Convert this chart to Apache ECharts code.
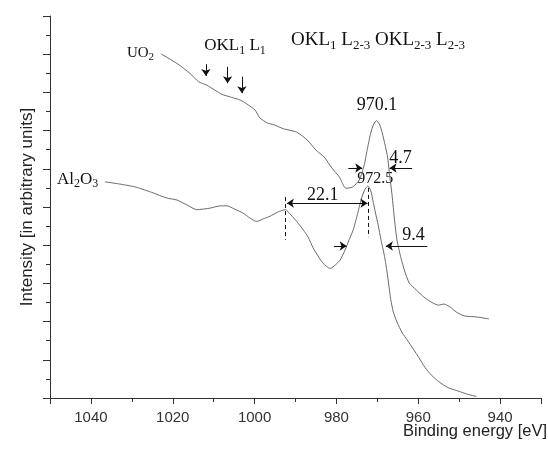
<!DOCTYPE html>
<html>
<head>
<meta charset="utf-8">
<script src="https://cdn.jsdelivr.net/npm/echarts@6/dist/echarts.min.js"></script>
<style>
html, body { margin: 0; padding: 0; background: #fff; }
#chart { width: 548px; height: 449px; }
</style>
</head>
<body>
<div id="chart"></div>
<script>
// spectra (binding energy in eV, intensity in arbitrary units)
var uo2Energy = [1022.9, 1019.0, 1015.8, 1013.7, 1011.7, 1009.7, 1008.0, 1005.6, 1003.5, 1001.5,
	999.9, 998.7, 996.9, 995.2, 993.0, 989.7, 987.1, 985.0, 983.0, 981.1,
	979.3, 977.7, 976.1, 974.4, 973.2, 972.4, 971.6, 970.9, 970.2, 969.4,
	968.8, 968.1, 967.5, 967.0, 966.4, 965.8, 965.2, 964.4, 963.4, 962.2,
	960.5, 958.6, 956.8, 955.1, 953.7, 952.2, 950.7, 948.8, 945.6, 942.7];
var uo2Intensity = [9.01, 8.76, 8.50, 8.28, 8.19, 8.06, 7.95, 7.87, 7.80, 7.67,
	7.54, 7.33, 7.20, 7.15, 7.05, 6.96, 6.75, 6.49, 6.31, 6.02,
	5.79, 5.49, 5.52, 5.71, 6.10, 6.54, 6.94, 7.17, 7.26, 7.15,
	6.94, 6.62, 6.31, 5.84, 5.31, 4.66, 4.14, 3.74, 3.35, 3.01,
	2.83, 2.64, 2.51, 2.43, 2.46, 2.38, 2.25, 2.15, 2.12, 2.07];

var al2o3Energy = [1036.6, 1032.9, 1029.0, 1024.8, 1021.6, 1018.9, 1016.5, 1014.1, 1010.9, 1008.4,
	1006.7, 1005.0, 1002.8, 1001.1, 999.5, 997.9, 996.2, 994.3, 992.5, 991.1,
	989.6, 988.1, 986.9, 985.7, 984.5, 983.3, 981.5, 980.3, 979.1, 977.9,
	976.9, 975.9, 974.9, 974.0, 973.1, 972.3, 971.6, 971.1, 970.5, 969.8,
	969.1, 968.3, 967.7, 967.2, 966.7, 966.1, 965.2, 963.9, 962.7, 961.2,
	959.8, 958.3, 956.8, 954.9, 952.7, 950.2, 948.0, 945.8];
var al2o3Intensity = [5.66, 5.60, 5.52, 5.37, 5.24, 5.18, 5.05, 4.93, 4.97, 5.03,
	5.03, 4.95, 4.84, 4.71, 4.62, 4.69, 4.76, 4.87, 4.93, 4.79,
	4.61, 4.40, 4.21, 3.93, 3.72, 3.53, 3.39, 3.48, 3.61, 3.87,
	4.14, 4.40, 4.79, 5.18, 5.45, 5.55, 5.42, 5.18, 4.87, 4.53,
	4.14, 3.74, 3.35, 2.96, 2.57, 2.25, 1.99, 1.70, 1.52, 1.28,
	1.05, 0.79, 0.60, 0.42, 0.27, 0.18, 0.10, 0.04];

var xTickLabels = [940, 960, 980, 1000, 1020, 1040];
var xMajorTicks = [930, 940, 960, 980, 1000, 1020, 1040, 1050];
var xMinorTicks = [950, 970, 990, 1010, 1030];

// peak positions and widths printed on the figure
var peakUO2 = 970.1;
var peakAl2O3 = 972.5;
var shiftLabel = '22.1';
var fwhmUO2 = '4.7';
var fwhmAl2O3 = '9.4';
var augerMarks = [1011.9, 1006.6, 1003.1];

function pairs(xs, ys) {
	var out = [];
	for (var i = 0; i < xs.length; i++) {
		out.push([xs[i], ys[i]]);
	}
	return out;
}

var serif = 'Liberation Serif';
var sans = 'Liberation Sans';
var ink = '#111';

var rich = {
	m: {fontFamily: serif, fontSize: 17, color: ink},
	s: {fontFamily: serif, fontSize: 12, color: ink, padding: [10, 0, 0, 0]},
	b: {fontFamily: serif, fontSize: 19, color: ink},
	bs: {fontFamily: serif, fontSize: 13, color: ink, padding: [11, 0, 0, 0]},
	um: {fontFamily: serif, fontSize: 15, color: ink},
	us: {fontFamily: serif, fontSize: 11, color: ink, padding: [9, 0, 0, 0]},
	n: {fontFamily: serif, fontSize: 18, color: ink},
	k: {fontFamily: serif, fontSize: 16, color: ink}
};

// text notes anchored in data coordinates
var notes = [
	{at: [1031.2, 9.04], text: '{um|UO}{us|2}', align: 'left'},
	{at: [1048.3, 5.73], text: '{m|Al}{s|2}{m|O}{s|3}', align: 'left'},
	{at: [1012.3, 9.22], text: '{m|OKL}{s|1}{m| L}{s|1}', align: 'left'},
	{at: [991.1, 9.36], text: '{b|OKL}{bs|1}{b| L}{bs|2-3}{b| OKL}{bs|2-3}{b| L}{bs|2-3}', align: 'left'},
	{at: [peakUO2, 7.66], text: '{n|' + peakUO2.toFixed(1) + '}', align: 'center'},
	{at: [967.1, 6.28], text: '{n|' + fwhmUO2 + '}', align: 'left'},
	{at: [974.9, 5.73], text: '{k|' + peakAl2O3.toFixed(1) + '}', align: 'left'},
	{at: [987.2, 5.31], text: '{n|' + shiftLabel + '}', align: 'left'},
	{at: [963.9, 4.27], text: '{n|' + fwhmAl2O3 + '}', align: 'left'}
];

function arrow(x1, y1, x2, y2, both) {
	return [
		{coord: [x1, y1], symbol: both ? 'arrow' : 'none'},
		{coord: [x2, y2], symbol: 'arrow'}
	];
}
function dash(x, y1, y2) {
	return [
		{coord: [x, y1], symbol: 'none', lineStyle: {type: [4, 3]}},
		{coord: [x, y2], symbol: 'none', lineStyle: {type: [4, 3]}}
	];
}

var marks = [
	arrow(augerMarks[0], 8.74, augerMarks[0], 8.43),
	arrow(augerMarks[1], 8.67, augerMarks[1], 8.24),
	arrow(augerMarks[2], 8.41, augerMarks[2], 7.98),
	arrow(977.1, 6.02, 973.7, 6.02),
	arrow(961.5, 6.02, 967.0, 6.02),
	arrow(992.1, 5.10, 972.4, 5.10, true),
	arrow(980.6, 3.98, 977.5, 3.98),
	arrow(957.8, 3.98, 967.9, 3.98),
	dash(992.4, 5.26, 4.14),
	dash(peakAl2O3 - 0.2, 5.50, 4.21)
];

var chart = echarts.init(document.getElementById('chart'));

var option = {
	animation: false,
	backgroundColor: '#fff',
	grid: {left: 50, right: 7, top: 16, bottom: 51, containLabel: false, outerBoundsMode: 'none'},
	graphic: [{
		type: 'text',
		right: 1,
		top: 423,
		style: {text: 'Binding energy [eV]', font: '16.5px "Liberation Sans"', fill: '#222'}
	}],
	xAxis: [{
		type: 'value',
		min: 930,
		max: 1050,
		inverse: true,
		axisLine: {lineStyle: {color: '#333', width: 1}},
		axisTick: {customValues: xMajorTicks, length: 6, lineStyle: {color: '#333'}},
		axisLabel: {
			customValues: xTickLabels, margin: 12, fontFamily: sans, fontSize: 15, color: '#333',
			formatter: function(v) { return String(v); }
		},
		splitLine: {show: false}
	}, {
		type: 'value',
		min: 930,
		max: 1050,
		inverse: true,
		position: 'bottom',
		axisLine: {show: false},
		axisTick: {customValues: xMinorTicks, length: 4, lineStyle: {color: '#333'}},
		axisLabel: {show: false},
		splitLine: {show: false}
	}],
	yAxis: {
		type: 'value',
		min: 0,
		max: 10,
		interval: 1,
		name: 'Intensity [in arbitrary units]',
		nameLocation: 'middle',
		nameGap: 14,
		nameTextStyle: {fontFamily: sans, fontSize: 17, color: '#222'},
		axisLine: {show: true, lineStyle: {color: '#333', width: 1}},
		axisTick: {show: true, length: 7, lineStyle: {color: '#333'}},
		minorTick: {show: true, splitNumber: 2, length: 4, lineStyle: {color: '#333'}},
		axisLabel: {show: false},
		splitLine: {show: false},
		minorSplitLine: {show: false}
	},
	series: [{
		name: 'UO2',
		type: 'line',
		data: pairs(uo2Energy, uo2Intensity),
		showSymbol: false,
		smooth: 0.2,
		lineStyle: {color: '#6a6a6a', width: 1}
	}, {
		name: 'Al2O3',
		type: 'line',
		data: pairs(al2o3Energy, al2o3Intensity),
		showSymbol: false,
		smooth: 0.2,
		lineStyle: {color: '#6a6a6a', width: 1},
		markLine: {
			silent: true,
			symbolSize: 7,
			label: {show: false},
			lineStyle: {color: ink, width: 1, type: 'solid'},
			data: marks
		}
	}, {
		name: 'notes',
		type: 'scatter',
		symbolSize: 0,
		silent: true,
		itemStyle: {opacity: 1, color: ink},
		data: notes.map(function(nt) {
			return {
				value: nt.at,
				label: {
					show: true,
					position: [0, 0],
					align: nt.align,
					verticalAlign: 'middle',
					color: ink,
					opacity: 1,
					formatter: nt.text,
					rich: rich
				}
			};
		})
	}]
};

chart.setOption(option);
</script>
</body>
</html>
